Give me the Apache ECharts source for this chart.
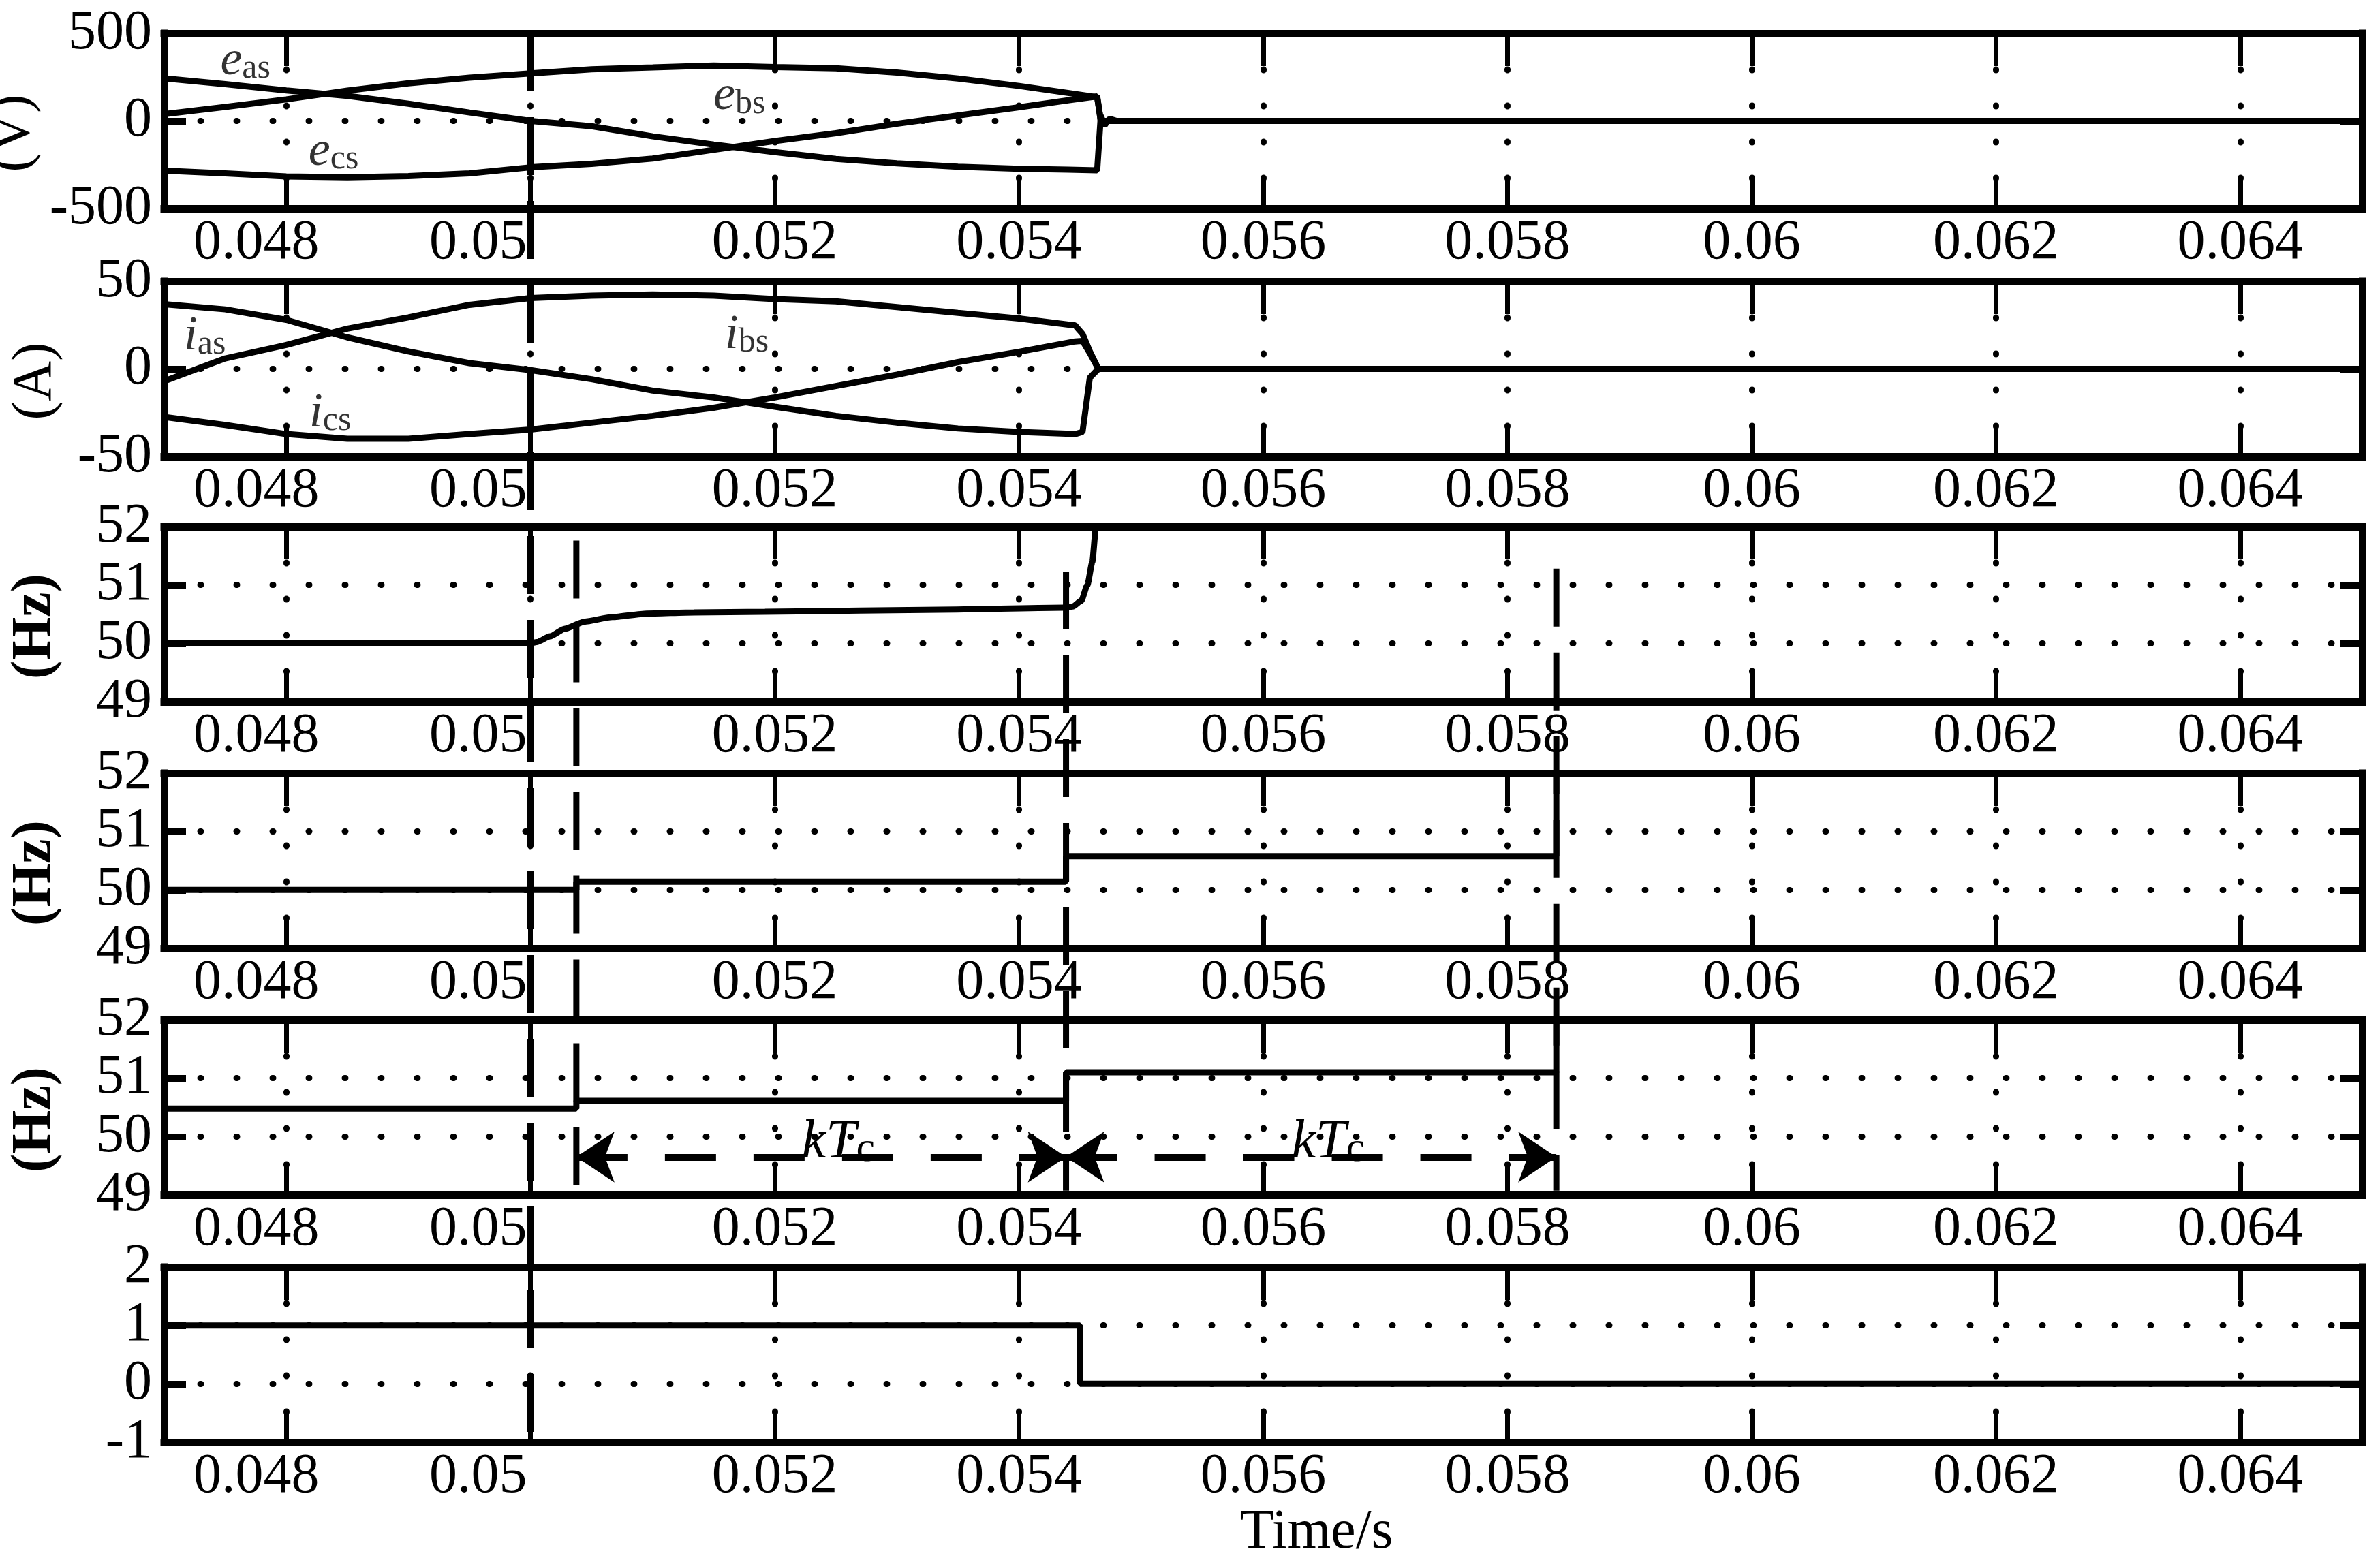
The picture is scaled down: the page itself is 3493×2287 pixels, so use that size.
<!DOCTYPE html>
<html>
<head>
<meta charset="utf-8">
<script src="https://cdn.jsdelivr.net/npm/echarts@6/dist/echarts.min.js"></script>
<style>
html, body { margin: 0; padding: 0; background: #fff; }
#chart { width: 3493px; height: 2287px; }
</style>
</head>
<body>
<div id="chart"></div>
<script>
// time axis (s)
const tMin = 0.047
const tMax = 0.065

// panel 1 : phase voltages (V)
const vTime = [0.047, 0.0475, 0.048, 0.0485, 0.049, 0.0495, 0.05, 0.0505, 0.051, 0.0515, 0.052, 0.0525, 0.053, 0.0535, 0.054, 0.0544, 0.05464, 0.05467, 0.0547, 0.05474, 0.0548, 0.065]
const eAs = [243, 210, 174, 143, 98, 48, 0, -30, -88, -135, -178, -217, -242, -262, -273, -278, -282, 30, -25, 12, 0, 0]
const eBs = [39, 80, 123, 173, 215, 247, 271, 295, 305, 316, 307, 301, 276, 242, 200, 160, 135, 0, 0, 0, 0, 0]
const eCs = [-284, -300, -317, -322, -315, -300, -265, -245, -215, -165, -115, -70, -16, 31, 78, 118, 140, 0, 0, 0, 0, 0]

// panel 2 : phase currents (A)
const iTime = [0.047, 0.0475, 0.048, 0.0485, 0.049, 0.0495, 0.05, 0.0505, 0.051, 0.0515, 0.052, 0.0525, 0.053, 0.0535, 0.054, 0.05446, 0.05452, 0.05458, 0.05465, 0.065]
const iAs = [37, 34, 28, 18, 10, 3.3, -0.7, -5.9, -12.4, -16.3, -21.6, -26.8, -30.7, -34, -36, -37.2, -36, -5, 0, 0]
const iBs = [-7, 6, 13.7, 23, 29.4, 36.6, 40.5, 41.8, 42.5, 41.8, 39.9, 38.6, 35.3, 32, 28.8, 24.8, 20, 10, 0, 0]
const iCs = [-27.4, -32, -37.2, -39.9, -39.9, -37.2, -34.6, -30.7, -26.8, -22.2, -16.3, -9.8, -3.3, 3.9, 9.8, 15.7, 16, 9, 0, 0]

// panel 3 : measured frequency (Hz)
const fTime = [0.047, 0.05, 0.05005, 0.05016, 0.05028, 0.05044, 0.05067, 0.05095, 0.05134, 0.05192, 0.0527, 0.05349, 0.05437, 0.05444, 0.05451, 0.05456, 0.0546, 0.05463, 0.05465]
const fMeas = [50, 50, 50.02, 50.12, 50.25, 50.37, 50.45, 50.51, 50.53, 50.54, 50.56, 50.58, 50.61, 50.63, 50.73, 51.0, 51.39, 52, 53]

// panels 4 and 5 : sampled frequency steps (Hz)
const stepTime = [0.047, 0.050375, 0.050375, 0.054385, 0.054385, 0.0584, 0.0584]
const fHold = [50, 50, 50.14, 50.14, 50.58, 50.58, 53]
const fRef = [50.48, 50.48, 50.61, 50.61, 51.1, 51.1, 53]

// panel 6 : flag
const flagTime = [0.047, 0.0545, 0.0545, 0.065]
const flag = [1, 1, 0, 0]

// y axes: [min, max, interval] and names
const yRanges = [[-500, 500, 500], [-50, 50, 50], [49, 52, 1], [49, 52, 1], [49, 52, 1], [-1, 2, 1]]
const yNames = ['(V)', '(A)', '(Hz)', '(Hz)', '(Hz)', '']

// curve labels
const voltLabelT = [0.047665, 0.05171, 0.048387]
const voltLabelV = [340, 140, -177]
const curLabelT = [0.047333, 0.05177, 0.048359]
const curLabelV = [18.3, 19.3, -25.5]
const phaseSub = ['as', 'bs', 'cs']

// vertical event lines (fraction of the whole stack, 1 = top of panel 1)
const eventT = [0.05, 0.050375, 0.054385, 0.0584]
const eventFrom = [1, 0.64, 0.618, 0.62]
const eventTo = [0, 0.1785, 0.1785, 0.1785]

// kTc interval arrows in panel 5
const kTcT = [0.050375, 0.054385, 0.0584]
const kTcLevel = 49.65

const FONT = 'Liberation Serif'
const BLACK = '#000'
const panelTop = [49, 413, 773, 1135, 1497, 1860]
const panelH = 257
const gridLeft = 241
const gridRight = 26

const chart = echarts.init(document.getElementById('chart'))

const labelText = { fontFamily: FONT, fontSize: 82, color: BLACK }
const frameLine = { show: true, onZero: false, lineStyle: { color: BLACK, width: 11, cap: 'square' } }
const xTick = { show: true, inside: true, length: 48, lineStyle: { color: BLACK, width: 7 } }
const yTick = { show: true, inside: true, length: 32, lineStyle: { color: BLACK, width: 10 } }
const gridDots = { show: true, lineStyle: { color: BLACK, width: 9, type: [1, 52], cap: 'round' } }

function zip(xs, ys) {
  return xs.map((x, i) => [x, ys[i]])
}

function fmtTime(v) {
  const s = String(+v.toFixed(3))
  if (s === '0.048') return '{a|' + s + '}'
  if (s === '0.05') return '{b|' + s + '}'
  return s
}

const grid = panelTop.map(top => ({
  left: gridLeft, right: gridRight, top: top, height: panelH, outerBoundsMode: 'none', containLabel: false
}))
// overlay for the event lines that cross several panels
grid.push({
  left: gridLeft, right: gridRight, top: panelTop[0], height: panelTop[5] + panelH - panelTop[0],
  outerBoundsMode: 'none', containLabel: false
})

const xAxis = []
const yAxis = []
panelTop.forEach((top, i) => {
  const r = yRanges[i]
  xAxis.push({
    type: 'value', gridIndex: i, min: tMin, max: tMax, splitNumber: 9, position: 'bottom',
    axisLine: frameLine, axisTick: xTick, splitLine: gridDots,
    axisLabel: Object.assign({
      show: true, showMinLabel: false, showMaxLabel: false, margin: 10, formatter: fmtTime,
      rich: {
        a: Object.assign({ padding: [0, 88, 0, 0] }, labelText),
        b: Object.assign({ padding: [0, 154, 0, 0] }, labelText)
      }
    }, labelText),
    name: i === 5 ? 'Time/s' : '', nameLocation: 'middle', nameGap: 92,
    nameTextStyle: Object.assign({ padding: [0, 0, 0, 156] }, labelText)
  })
  xAxis.push({
    type: 'value', gridIndex: i, min: tMin, max: tMax, splitNumber: 9, position: 'top',
    axisLine: frameLine, axisTick: xTick, axisLabel: { show: false }, splitLine: { show: false }
  })
  yAxis.push({
    type: 'value', gridIndex: i, min: r[0], max: r[1], interval: r[2], position: 'left',
    axisLine: frameLine, axisTick: yTick, splitLine: gridDots,
    axisLabel: Object.assign({ margin: 18, showMinLabel: true, showMaxLabel: true }, labelText),
    name: yNames[i], nameLocation: 'middle', nameRotate: 90, nameGap: 148,
    nameTextStyle: Object.assign({}, labelText, {
      fontWeight: yNames[i] === '(Hz)' ? 'bold' : 'normal', padding: [0, 36, 0, 0]
    })
  })
  yAxis.push({
    type: 'value', gridIndex: i, min: r[0], max: r[1], interval: r[2], position: 'right',
    axisLine: frameLine, axisTick: yTick, axisLabel: { show: false }, splitLine: { show: false }
  })
})
xAxis.push({ type: 'value', gridIndex: 6, min: tMin, max: tMax, show: false })
yAxis.push({ type: 'value', gridIndex: 6, min: 0, max: 1, show: false })

function trace(i, xs, ys, extra) {
  return Object.assign({
    type: 'line', xAxisIndex: 2 * i, yAxisIndex: 2 * i, data: zip(xs, ys),
    symbol: 'none', lineStyle: { color: BLACK, width: 9 }, z: 3
  }, extra || {})
}

const subRich = {
  m: { fontFamily: FONT, fontStyle: 'italic', fontSize: 72, lineHeight: 72, padding: [0, 0, 10, 0], verticalAlign: 'top', color: BLACK },
  s: { fontFamily: FONT, fontSize: 50, lineHeight: 50, verticalAlign: 'bottom', color: BLACK }
}

function curveLabels(i, letter, ts, vs) {
  return {
    type: 'scatter', xAxisIndex: 2 * i, yAxisIndex: 2 * i, symbolSize: 1,
    itemStyle: { color: 'rgba(0,0,0,0)' }, z: 4,
    data: ts.map((t, k) => ({ value: [t, vs[k]], sub: phaseSub[k] })),
    label: {
      show: true, position: 'inside',
      formatter: p => '{m|' + letter + '}{s|' + p.data.sub + '}',
      rich: subRich
    }
  }
}

const series = [
  trace(0, vTime, eAs), trace(0, vTime, eBs), trace(0, vTime, eCs),
  curveLabels(0, 'e', voltLabelT, voltLabelV),
  trace(1, iTime, iAs), trace(1, iTime, iBs), trace(1, iTime, iCs),
  curveLabels(1, 'i', curLabelT, curLabelV),
  trace(2, fTime, fMeas, { smooth: 0.2, smoothMonotone: 'x' }),
  trace(3, stepTime, fHold),
  trace(4, stepTime, fRef, {
    markLine: {
      silent: true, symbol: ['arrow', 'arrow'], symbolSize: 56, animation: false,
      lineStyle: { color: BLACK, width: 10, type: [75, 55] },
      label: {
        show: true, position: 'middle', distance: -20, padding: [0, 0, 0, 50], formatter: '{k|kT}{c|c}',
        rich: {
          k: { fontFamily: FONT, fontStyle: 'italic', fontSize: 80, lineHeight: 80, padding: [0, 0, 14, 0], verticalAlign: 'top', color: BLACK },
          c: { fontFamily: FONT, fontSize: 62, lineHeight: 62, verticalAlign: 'bottom', color: BLACK }
        }
      },
      data: [
        [{ coord: [kTcT[0], kTcLevel] }, { coord: [kTcT[1], kTcLevel] }],
        [{ coord: [kTcT[1], kTcLevel] }, { coord: [kTcT[2], kTcLevel] }]
      ]
    }
  }),
  trace(5, flagTime, flag)
]

eventT.forEach((t, k) => {
  series.push({
    type: 'line', xAxisIndex: 12, yAxisIndex: 12, symbol: 'none', z: 5,
    data: [[t, eventFrom[k]], [t, eventTo[k]]],
    lineStyle: { color: BLACK, width: k === 0 ? 10 : 9, type: [85, 38] }
  })
})

chart.setOption({
  animation: false,
  backgroundColor: '#fff',
  grid: grid,
  xAxis: xAxis,
  yAxis: yAxis,
  series: series
})
</script>
</body>
</html>
